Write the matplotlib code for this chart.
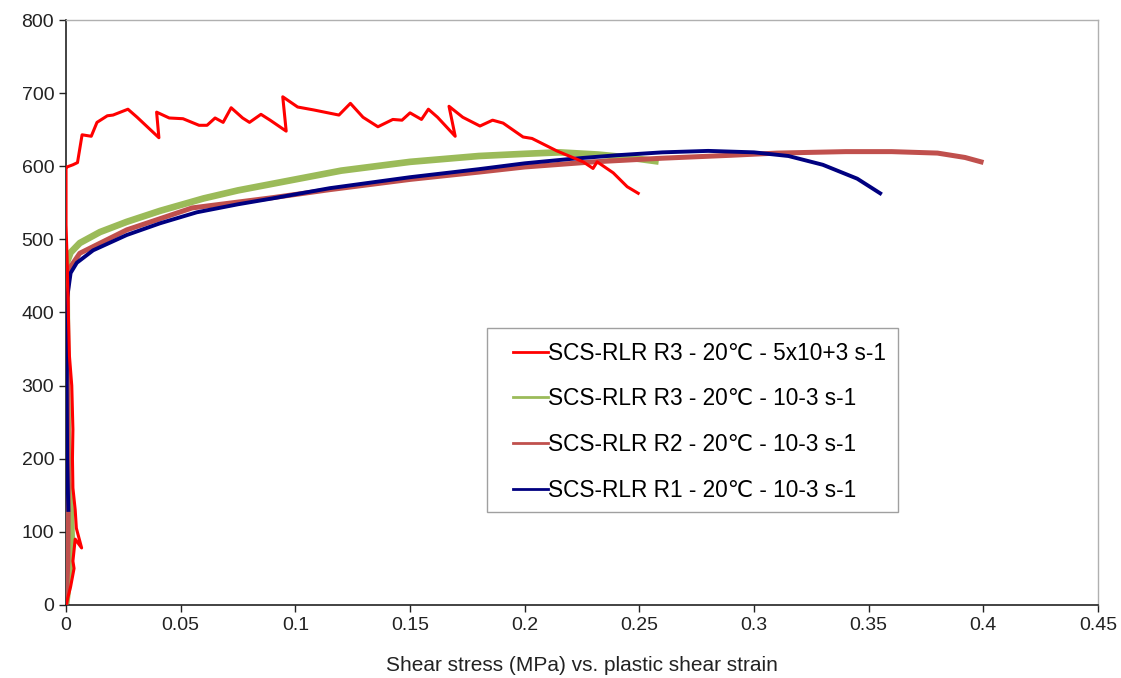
import matplotlib
matplotlib.use("Agg")
import matplotlib.pyplot as plt
from matplotlib.patches import Rectangle

plt.rcParams['font.family'] = ['Liberation Sans', 'DejaVu Sans']

# Red: SCS-RLR R3 - 5x10+3 s-1 (dynamic test)
red_x = [0.0, 0.002, 0.0035, 0.003, 0.004, 0.0068, 0.0045, 0.004, 0.003, 0.0028,
         0.003, 0.0025, 0.0015, 0.001, 0.0005, 0.0, 0.0, 0.0004, 0.003, 0.005,
         0.007, 0.011, 0.0135, 0.018, 0.0205, 0.027, 0.031, 0.0405, 0.0395, 0.045,
         0.051, 0.058, 0.0615, 0.065, 0.0685, 0.072, 0.077, 0.080, 0.085, 0.089,
         0.096, 0.0945, 0.101, 0.108, 0.119, 0.124, 0.1295, 0.136, 0.1425, 0.1465,
         0.150, 0.155, 0.158, 0.162, 0.1697, 0.167, 0.173, 0.1805, 0.186, 0.1906,
         0.1993, 0.2032, 0.214, 0.2255, 0.2298, 0.2316, 0.2386, 0.2447, 0.2495]
red_y = [0, 25, 50, 60, 90, 78, 105, 130, 160, 200,
         240, 300, 340, 400, 470, 520, 598, 599, 602, 605,
         643, 641, 660, 669, 670, 678, 667, 639, 674, 666,
         665, 656, 656, 666, 660, 680, 666, 660, 671, 663,
         648, 695, 681, 677, 670, 686, 667, 654, 664, 663,
         673, 664, 678, 667, 641, 682, 667, 655, 663, 659,
         640, 638, 621, 606, 597, 606, 591, 572, 563]

# Green: SCS-RLR R3 - 10-3 s-1
green_x = [0.0, 0.0015, 0.0025, 0.002, 0.001, 0.0005, 0.0003, 0.0003, 0.002, 0.006,
           0.0148, 0.0265, 0.041, 0.06, 0.075, 0.09, 0.1, 0.12, 0.15, 0.18,
           0.2, 0.215, 0.232, 0.245, 0.257]
green_y = [0, 40, 90, 130, 170, 300, 420, 468, 482, 495,
           510, 524, 539, 556, 567, 576, 582, 594, 606, 614,
           617, 619, 616, 612, 607]

# Brown: SCS-RLR R2 - 10-3 s-1
brown_x = [0.0, 0.0008, 0.001, 0.0006, 0.0005, 0.001, 0.006, 0.0265, 0.055, 0.09,
           0.115, 0.15, 0.18, 0.2, 0.23, 0.26, 0.29, 0.31, 0.34, 0.36,
           0.38, 0.392, 0.399]
brown_y = [0, 60, 150, 300, 420, 458, 481, 513, 543, 557,
           568, 582, 592, 599, 606, 611, 615, 618, 620, 620,
           618, 612, 606]

# Blue: SCS-RLR R1 - 10-3 s-1
blue_x = [0.001, 0.0005, 0.0003, 0.0005, 0.002, 0.0047, 0.0118, 0.0265, 0.041, 0.057,
          0.075, 0.09, 0.115, 0.15, 0.18, 0.2, 0.22, 0.24, 0.26, 0.28,
          0.30, 0.315, 0.33, 0.345, 0.355]
blue_y = [130, 200, 300, 420, 454, 468, 485, 506, 522, 537,
          548, 556, 570, 585, 596, 604, 610, 615, 619, 621,
          619, 614, 602, 583, 563]

labels = ['SCS-RLR R3 - 20\u2103 - 5x10+3 s-1',
          'SCS-RLR R3 - 20\u2103 - 10-3 s-1',
          'SCS-RLR R2 - 20\u2103 - 10-3 s-1',
          'SCS-RLR R1 - 20\u2103 - 10-3 s-1']

fig = plt.figure(figsize=(11.21, 6.78), dpi=100)
ax = fig.add_axes([0.0589, 0.1077, 0.9206, 0.8628])

ax.plot(red_x, red_y, color='#FF0000', lw=2.2, label=labels[0], zorder=5)
ax.plot(green_x, green_y, color='#9BBB59', lw=4.8, label=labels[1], zorder=2)
ax.plot(brown_x, brown_y, color='#C0504D', lw=3.6, label=labels[2], zorder=3)
ax.plot(blue_x, blue_y, color='#000080', lw=2.8, label=labels[3], zorder=4)

ax.set_xlim(0, 0.45)
ax.set_ylim(0, 800)
ax.set_xticks([0, 0.05, 0.1, 0.15, 0.2, 0.25, 0.3, 0.35, 0.4, 0.45])
ax.set_xticklabels(['0', '0.05', '0.1', '0.15', '0.2', '0.25', '0.3', '0.35', '0.4', '0.45'])
ax.set_yticks(range(0, 801, 100))
ax.tick_params(direction='out', length=5, width=1, labelsize=14, colors='#222222')

for side in ['top', 'right']:
    ax.spines[side].set_color('#B0B0B0')
    ax.spines[side].set_linewidth(1)
for side in ['left', 'bottom']:
    ax.spines[side].set_color('#222222')
    ax.spines[side].set_linewidth(1.2)

ax.set_xlabel('Shear stress (MPa) vs. plastic shear strain', fontsize=15,
              color='#222222', labelpad=16)

# legend box drawn separately so the padding can match the original
ax.add_patch(Rectangle((0.408, 0.159), 0.398, 0.3145, transform=ax.transAxes,
                       facecolor='white', edgecolor='#A0A0A0', lw=1, zorder=6))
leg = ax.legend(loc='upper left', bbox_to_anchor=(0.433, 0.450), fontsize=16.3,
                handlelength=1.55, handletextpad=0.0, labelspacing=1.0,
                borderpad=0, borderaxespad=0, frameon=False)
leg.set_zorder(7)
for line in leg.get_lines():
    line.set_linewidth(2)

fig.savefig('out.png', dpi=100)
